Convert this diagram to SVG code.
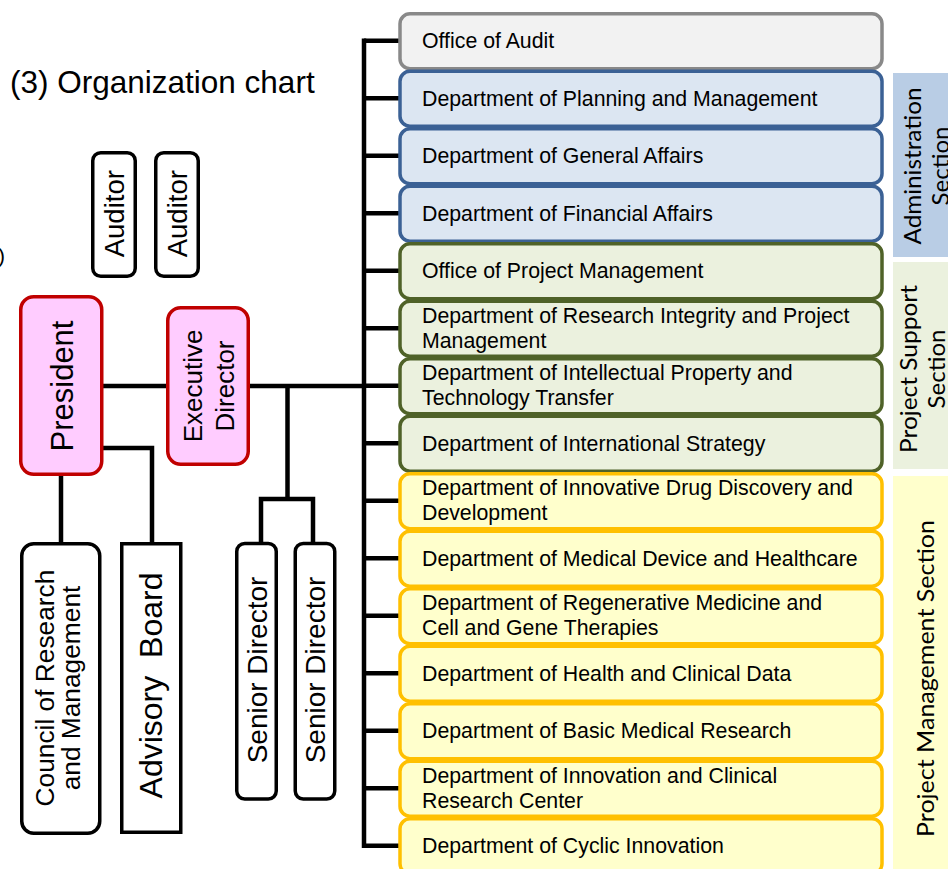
<svg xmlns="http://www.w3.org/2000/svg" width="948" height="869" viewBox="0 0 948 869">
  <style>
    .t { font-family: "Liberation Sans", Arial, sans-serif; fill: #000; }
    .dept { font-family: "Liberation Sans", Arial, sans-serif; font-size: 21.3px; fill: #000; }
    .sec { font-family: Lato, "Open Sans", sans-serif; font-size: 24px; fill: #000; text-anchor: middle; }
    .v { text-anchor: middle; }
    .plain { fill: #fff; stroke: #000; stroke-width: 3.5; }
    .exec { fill: #ffccff; stroke: #c00000; stroke-width: 3.5; }
    .audit { fill: #f2f2f2; stroke: #898989; stroke-width: 3.5; }
    .adm { fill: #dce6f2; stroke: #3b6195; stroke-width: 3.5; }
    .sup { fill: #ebf1de; stroke: #4f6228; stroke-width: 3.5; }
    .pm { fill: #ffffcc; stroke: #ffc000; stroke-width: 3.5; }
    .wire { fill: none; stroke: #000; stroke-width: 4.5; stroke-linejoin: miter; }
  </style>

  <!-- heading -->
  <text class="t" x="10" y="93" font-size="31.5">(3) Organization chart</text>
  <text class="t" x="-2" y="263" font-size="21">)</text>

  <!-- section bands on the right edge -->
  <g id="section-administration">
    <rect x="893" y="73" width="60" height="184" fill="#b9cde5"/>
    <g transform="translate(921,166) rotate(-90)">
      <text class="sec" x="0" y="0" textLength="157" lengthAdjust="spacingAndGlyphs">Administration</text>
      <text class="sec" x="0" y="28">Section</text>
    </g>
  </g>
  <g id="section-project-support">
    <rect x="893" y="262" width="60" height="207" fill="#ebf1de"/>
    <g transform="translate(917,369) rotate(-90)">
      <text class="sec" x="0" y="0" textLength="168" lengthAdjust="spacingAndGlyphs">Project Support</text>
      <text class="sec" x="0" y="28">Section</text>
    </g>
  </g>
  <g id="section-project-management">
    <rect x="893" y="476" width="60" height="400" fill="#ffffcc"/>
    <g transform="translate(934,678.5) rotate(-90)">
      <text class="sec" x="0" y="0" textLength="317" lengthAdjust="spacingAndGlyphs">Project Management Section</text>
    </g>
  </g>

  <!-- connectors -->
  <g id="connectors" class="wire">
    <path d="M364 38.5 V848"/>
    <path d="M364 40.75 H400 M364 98.25 H400 M364 155.75 H400 M364 213.25 H400 M364 270.75 H400 M364 328.25 H400 M364 385.75 H400 M364 443.25 H400 M364 500.75 H400 M364 558.25 H400 M364 615.75 H400 M364 673.25 H400 M364 730.75 H400 M364 788.25 H400 M364 845.75 H400"/>
    <path d="M250 386 H364"/>
    <path d="M103 386 H166"/>
    <path d="M103 448 H152 V542"/>
    <path d="M61 476 V542"/>
    <path d="M287.5 386 V499"/>
    <path d="M261 542 V499 H313 V542"/>
  </g>

  <!-- leadership -->
  <g id="auditor-1">
    <rect class="plain" x="92.75" y="152.75" width="42.5" height="123.5" rx="8"/>
    <text class="t v" font-size="27.5" transform="translate(124,213.7) rotate(-90)">Auditor</text>
  </g>
  <g id="auditor-2">
    <rect class="plain" x="155.75" y="152.75" width="42.5" height="123.5" rx="8"/>
    <text class="t v" font-size="27.5" transform="translate(187,213.7) rotate(-90)">Auditor</text>
  </g>
  <g id="president">
    <rect class="exec" x="20.75" y="296.75" width="81" height="177.5" rx="13"/>
    <text class="t v" font-size="31" transform="translate(72.5,386) rotate(-90)">President</text>
  </g>
  <g id="executive-director">
    <rect class="exec" x="167.75" y="307.75" width="80.5" height="156.5" rx="13"/>
    <g transform="translate(0,386)">
      <text class="t v" font-size="26" transform="translate(202,0) rotate(-90)">Executive</text>
      <text class="t v" font-size="26" transform="translate(233.5,0) rotate(-90)">Director</text>
    </g>
  </g>
  <g id="council">
    <rect class="plain" x="21.75" y="543.75" width="78" height="289.5" rx="12"/>
    <g transform="translate(0,688)">
      <text class="t v" font-size="26.3" transform="translate(54,0) rotate(-90)">Council of Research</text>
      <text class="t v" font-size="26.3" transform="translate(79.5,0) rotate(-90)">and Management</text>
    </g>
  </g>
  <g id="advisory-board">
    <rect class="plain" x="121.75" y="543.75" width="59" height="288.5"/>
    <text class="t v" font-size="32" xml:space="preserve" transform="translate(162,685.5) rotate(-90)">Advisory  Board</text>
  </g>
  <g id="senior-director-1">
    <rect class="plain" x="236.75" y="543.5" width="39.5" height="255.5" rx="8"/>
    <text class="t v" font-size="28" transform="translate(266.5,670) rotate(-90)">Senior Director</text>
  </g>
  <g id="senior-director-2">
    <rect class="plain" x="295.25" y="543.5" width="39.5" height="255.5" rx="8"/>
    <text class="t v" font-size="28" transform="translate(325,670) rotate(-90)">Senior Director</text>
  </g>

  <!-- departments -->
  <g id="office-of-audit">
    <rect class="audit" x="400" y="13.75" width="482" height="55" rx="10"/>
    <text class="dept" x="422" y="48.25">Office of Audit</text>
  </g>
  <g id="planning-and-management">
    <rect class="adm" x="400" y="71.25" width="482" height="55" rx="10"/>
    <text class="dept" x="422" y="105.75">Department of Planning and Management</text>
  </g>
  <g id="general-affairs">
    <rect class="adm" x="400" y="128.75" width="482" height="55" rx="10"/>
    <text class="dept" x="422" y="163.25">Department of General Affairs</text>
  </g>
  <g id="financial-affairs">
    <rect class="adm" x="400" y="186.25" width="482" height="55" rx="10"/>
    <text class="dept" x="422" y="220.75">Department of Financial Affairs</text>
  </g>
  <g id="project-management-office">
    <rect class="sup" x="400" y="243.75" width="482" height="55" rx="10"/>
    <text class="dept" x="422" y="278.25">Office of Project Management</text>
  </g>
  <g id="research-integrity">
    <rect class="sup" x="400" y="301.25" width="482" height="55" rx="10"/>
    <text class="dept" x="422" y="322.75">Department of Research Integrity and Project</text>
    <text class="dept" x="422" y="347.75">Management</text>
  </g>
  <g id="intellectual-property">
    <rect class="sup" x="400" y="358.75" width="482" height="55" rx="10"/>
    <text class="dept" x="422" y="380.25">Department of Intellectual Property and</text>
    <text class="dept" x="422" y="405.25">Technology Transfer</text>
  </g>
  <g id="international-strategy">
    <rect class="sup" x="400" y="416.25" width="482" height="55" rx="10"/>
    <text class="dept" x="422" y="450.75">Department of International Strategy</text>
  </g>
  <g id="drug-discovery">
    <rect class="pm" x="400" y="473.75" width="482" height="55" rx="10"/>
    <text class="dept" x="422" y="495.25">Department of Innovative Drug Discovery and</text>
    <text class="dept" x="422" y="520.25">Development</text>
  </g>
  <g id="medical-device">
    <rect class="pm" x="400" y="531.25" width="482" height="55" rx="10"/>
    <text class="dept" x="422" y="565.75">Department of Medical Device and Healthcare</text>
  </g>
  <g id="regenerative-medicine">
    <rect class="pm" x="400" y="588.75" width="482" height="55" rx="10"/>
    <text class="dept" x="422" y="610.25">Department of Regenerative Medicine and</text>
    <text class="dept" x="422" y="635.25">Cell and Gene Therapies</text>
  </g>
  <g id="health-clinical-data">
    <rect class="pm" x="400" y="646.25" width="482" height="55" rx="10"/>
    <text class="dept" x="422" y="680.75">Department of Health and Clinical Data</text>
  </g>
  <g id="basic-medical-research">
    <rect class="pm" x="400" y="703.75" width="482" height="55" rx="10"/>
    <text class="dept" x="422" y="738.25">Department of Basic Medical Research</text>
  </g>
  <g id="clinical-research-center">
    <rect class="pm" x="400" y="761.25" width="482" height="55" rx="10"/>
    <text class="dept" x="422" y="782.75">Department of Innovation and Clinical</text>
    <text class="dept" x="422" y="807.75">Research Center</text>
  </g>
  <g id="cyclic-innovation">
    <rect class="pm" x="400" y="818.75" width="482" height="55" rx="10"/>
    <text class="dept" x="422" y="853.25">Department of Cyclic Innovation</text>
  </g>
</svg>
